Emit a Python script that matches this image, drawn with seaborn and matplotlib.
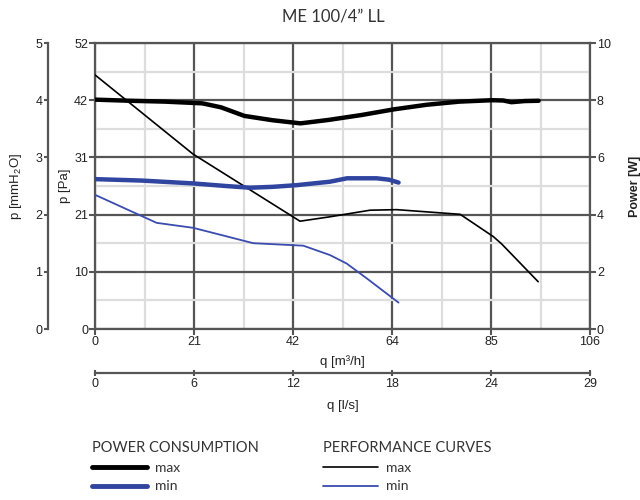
import matplotlib
matplotlib.use("Agg")
import matplotlib.pyplot as plt
from matplotlib.lines import Line2D
import seaborn as sns
import pandas as pd
import numpy as np

# ---------------- data ----------------
# airflow in m3/h
pmax_q = [0, 7.5, 15, 23, 27, 32, 38, 44, 50, 57, 64, 71, 78, 85, 87.4, 89.2, 92, 95]
pmax_w = [8.02, 7.98, 7.95, 7.89, 7.75, 7.45, 7.3, 7.19, 7.31, 7.48, 7.68, 7.84, 7.95, 8.0, 7.99, 7.93, 7.97, 7.98]

pmin_q = [0, 10, 21, 28, 33.2, 38, 43.2, 50.3, 54, 60.3, 63, 65]
pmin_w = [5.24, 5.19, 5.09, 5.0, 4.94, 4.97, 5.03, 5.15, 5.27, 5.27, 5.22, 5.12]

perfmax_q = [0, 21, 43.9, 50.3, 58.9, 64.6, 78.2, 85.3, 87.1, 94.9]
perfmax_pa = [46.2, 31.8, 19.6, 20.4, 21.6, 21.7, 20.85, 16.8, 15.45, 8.6]

perfmin_q = [0, 13.2, 21, 33.9, 44.6, 50.3, 53.9, 58.2, 65]
perfmin_pa = [24.4, 19.3, 18.4, 15.6, 15.15, 13.45, 11.9, 9.2, 4.8]

q_m3h_labels = [0, 21, 42, 64, 85, 106]
q_ls_labels = [0, 6, 12, 18, 24, 29]
pa_labels = [0, 10, 21, 31, 42, 52]
mm_labels = [0, 1, 2, 3, 4, 5]
w_labels = [0, 2, 4, 6, 8, 10]

title = "ME 100/4\u201d LL"

# ---------------- style ----------------
sns.set_style("white")
plt.rcParams["font.family"] = ["Liberation Sans", "DejaVu Sans"]
plt.rcParams["mathtext.fontset"] = "custom"
plt.rcParams["mathtext.rm"] = "Liberation Sans"
plt.rcParams["mathtext.it"] = "Liberation Sans:italic"

DARK = "#555555"
LIGHT = "#dddddd"
TXT = "#222222"
BLUE_T = "#2f45a0"
BLUE_N = "#3a4cae"
PT = 72 / 100  # points per pixel

fig = plt.figure(figsize=(6.4, 5.0), dpi=100)
ax = fig.add_axes([95 / 640, 1 - 329 / 500, 495 / 640, 286 / 500])

XMAX = 106.0
PAMAX = 52.0
xt = [XMAX * i / 5 for i in range(6)]
xm = [XMAX * (i + 0.5) / 5 for i in range(5)]
yt = [PAMAX * i / 5 for i in range(6)]
ym = [PAMAX * (i + 0.5) / 5 for i in range(5)]

ax.set_xlim(0, XMAX)
ax.set_ylim(0, PAMAX)
ax.set_xticks(xt)
ax.set_xticklabels([str(v) for v in q_m3h_labels])
ax.set_xticks(xm, minor=True)
ax.set_yticks(yt)
ax.set_yticklabels([str(v) for v in pa_labels])
ax.set_yticks(ym, minor=True)
ax.grid(which="minor", color=LIGHT, lw=1.6, zorder=0)
ax.grid(which="major", color=DARK, lw=1.6, zorder=1)
ax.set_axisbelow(True)
ax.tick_params(which="minor", length=0)
ax.tick_params(which="major", direction="out", length=4, width=1.5, color=DARK,
               labelsize=9, labelcolor=TXT, pad=1)
for s in ax.spines.values():
    s.set_color(DARK)
    s.set_linewidth(1.6)

# performance curves (Pa)
df_pmax = pd.DataFrame({"q": perfmax_q, "p": perfmax_pa})
df_pmin = pd.DataFrame({"q": perfmin_q, "p": perfmin_pa})
sns.lineplot(data=df_pmax, x="q", y="p", ax=ax, color="black", lw=1.2, zorder=3)
sns.lineplot(data=df_pmin, x="q", y="p", ax=ax, color=BLUE_N, lw=1.3, zorder=3)
ax.set_xlabel("q [m\u00b3/h]", fontsize=9.5, color=TXT, labelpad=5)
ax.set_ylabel("p [Pa]", fontsize=9.5, color=TXT, labelpad=2)

# power axis (right)
ax2 = ax.twinx()
ax2.set_ylim(0, 10)
ax2.set_yticks(w_labels)
ax2.tick_params(direction="out", length=4, width=1.5, color=DARK,
                labelsize=9, labelcolor=TXT, pad=1)
for s in ax2.spines.values():
    s.set_visible(False)
df_wmax = pd.DataFrame({"q": pmax_q, "w": pmax_w})
df_wmin = pd.DataFrame({"q": pmin_q, "w": pmin_w})
sns.lineplot(data=df_wmax, x="q", y="w", ax=ax2, color="black", lw=3.2, zorder=4)
sns.lineplot(data=df_wmin, x="q", y="w", ax=ax2, color=BLUE_T, lw=3.2, zorder=4)
ax2.set_ylabel("Power [W]", fontsize=9, color=TXT, fontweight="bold", labelpad=13)
ax2.set_xlim(0, XMAX)

# mmH2O axis (outer left)
ax3 = ax.twinx()
ax3.set_ylim(0, 5)
ax3.set_yticks(mm_labels)
for k, s in ax3.spines.items():
    s.set_visible(k == "left")
ax3.spines["left"].set_position(("outward", 47 * PT))
ax3.spines["left"].set_color(DARK)
ax3.spines["left"].set_linewidth(1.6)
ax3.yaxis.set_ticks_position("left")
ax3.yaxis.set_label_position("left")
ax3.tick_params(direction="out", length=3, width=1.5, color=DARK,
                labelsize=9, labelcolor=TXT, pad=1)
ax3.set_ylabel("p [mmH$_2$O]", fontsize=9.5, color=TXT, labelpad=8)

# l/s axis (lower)
ax4 = ax.twiny()
ax4.set_xlim(0, XMAX)
ax4.set_xticks(xt)
ax4.set_xticklabels([str(v) for v in q_ls_labels])
ax4.xaxis.set_ticks_position("bottom")
ax4.xaxis.set_label_position("bottom")
for k, s in ax4.spines.items():
    s.set_visible(k == "bottom")
ax4.spines["bottom"].set_position(("outward", 44 * PT))
ax4.spines["bottom"].set_color(DARK)
ax4.spines["bottom"].set_linewidth(1.6)
ax4.tick_params(direction="inout", length=5, width=1.5, color=DARK,
                labelsize=9, labelcolor=TXT, pad=1)
ax4.set_xlabel("q [l/s]", fontsize=9.5, color=TXT, labelpad=7)

fig.text(333 / 640, 1 - 17 / 500, title, ha="center", va="center",
         fontsize=12, color="#333333", family=["Lato", "DejaVu Sans"])

# legends
lf = ["Lato", "DejaVu Sans"]
h1 = [Line2D([], [], color="black", lw=3.5), Line2D([], [], color=BLUE_T, lw=3.5)]
h2 = [Line2D([], [], color="black", lw=1.2), Line2D([], [], color=BLUE_N, lw=1.3)]
for hs, ttl, x0 in [(h1, "POWER CONSUMPTION", 86), (h2, "PERFORMANCE CURVES", 317)]:
    leg = fig.legend(hs, ["max", "min"], title=ttl, loc="upper left",
                     bbox_to_anchor=(x0 / 640, 1 - 435 / 500), frameon=False,
                     handlelength=4.0, handletextpad=0.55, labelspacing=0.5,
                     alignment="left", borderaxespad=0,
                     prop={"family": lf, "size": 10},
                     title_fontproperties={"family": lf, "size": 10.5})
    leg.get_title().set_color("#333333")
    for t in leg.get_texts():
        t.set_color("#333333")

fig.savefig("out.png", dpi=100)
